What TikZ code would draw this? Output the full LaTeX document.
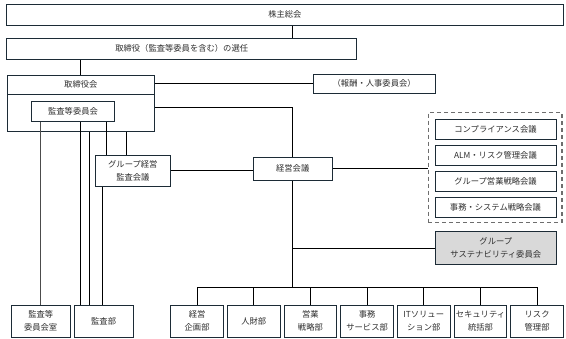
\documentclass[tikz,border=0pt]{standalone}
\usepackage{fontspec}
\setmainfont{Noto Sans CJK JP}
\definecolor{bordc}{HTML}{1C2B36}
\definecolor{txtc}{HTML}{2E2E2E}
\definecolor{grayfill}{HTML}{D9D9D9}
\definecolor{dashc}{HTML}{6E6E6E}
\begin{document}
\begin{tikzpicture}[x=1pt,y=-1pt,
  every node/.style={font=\fontsize{8.3}{13.5}\selectfont, text=txtc},
  box/.style={draw=bordc, line width=1pt, inner sep=0pt, align=center, fill=white},
  conn/.style={draw=black, line width=1pt},
  dept/.style={box, minimum width=52.8pt, minimum height=32pt}]
\useasboundingbox (0,0) rectangle (566,338);
% top
\node[box, minimum width=556.8pt, minimum height=20.3pt] (soukai) at (284.9,14.85) {株主総会};
\node[box, minimum width=350pt, minimum height=21pt] (senin) at (181.7,48.8) {取締役（監査等委員を含む）の選任};
% board
\node[box, minimum width=147pt, minimum height=55.7pt] (tk) at (80.8,103.15) {};
\node[box, minimum width=147pt, minimum height=19pt] (tkh) at (80.8,84.8) {取締役会};
\node[box, minimum width=82.6pt, minimum height=20pt] (kansa) at (73,111.7) {監査等委員会};
\node[box, minimum width=121.7pt, minimum height=19.3pt] (houshu) at (374.15,83.65) {（報酬・人事委員会）};
\node[box, minimum width=74.3pt, minimum height=31.7pt] (gkansa) at (132.85,170.85) {グループ経営\\監査会議};
\node[box, minimum width=79pt, minimum height=22.7pt] (keiei) at (292.7,168.65) {経営会議};
% dashed group
\node[draw=dashc, line width=1.6pt, dash pattern=on 4pt off 3pt, inner sep=0pt, minimum width=133.4pt, minimum height=110pt] (grp) at (495,167.3) {};
\node[box, minimum width=121pt, minimum height=20pt] (c1) at (495.5,129.5) {コンプライアンス会議};
\node[box, minimum width=121pt, minimum height=20pt] (c2) at (495.5,155.5) {ALM・リスク管理会議};
\node[box, minimum width=121pt, minimum height=20pt] (c3) at (495.5,181.5) {グループ営業戦略会議};
\node[box, minimum width=121pt, minimum height=20pt] (c4) at (495.5,207.5) {事務・システム戦略会議};
\node[box, fill=grayfill, minimum width=121.5pt, minimum height=32.6pt] (sust) at (495.8,248) {グループ\\サステナビリティ委員会};
% bottom left
\node[box, minimum width=59.3pt, minimum height=32pt] (kshitsu) at (40.7,321) {監査等\\委員会室};
\node[box, minimum width=59.3pt, minimum height=32pt] (kbu) at (103.65,321) {監査部};
% departments
\node[dept] (d1) at (197.1,321) {経営\\企画部};
\node[dept] (d2) at (253.77,321) {人財部};
\node[dept] (d3) at (310.44,321) {営業\\戦略部};
\node[dept] (d4) at (367.11,321) {事務\\サービス部};
\node[dept] (d5) at (423.78,321) {ITソリュー\\ション部};
\node[dept] (d6) at (480.45,321) {セキュリティ\\統括部};
\node[dept] (d7) at (537.12,321) {リスク\\管理部};
% helper coordinates
\coordinate (xA) at (80.7,0);
\coordinate (xB) at (89.3,0);
\coordinate (xC) at (106.7,0);
\coordinate (xD) at (126.7,0);
\coordinate (xE) at (102.3,0);
\coordinate (yB) at (0,107);
\coordinate (bus) at (292.7,287.3);
% connectors
\draw[conn] (soukai.south -| keiei.north) -- (senin.north -| keiei.north);
\draw[conn] (senin.south -| xA) -- (tkh.north -| xA);
\draw[conn] (houshu.west) -- (houshu.west -| tkh.east);
\draw[conn] (tk.east |- yB) -| (keiei.north);
\draw[conn, draw=black!70, line width=1.2pt] (kshitsu.north) -- (kshitsu.north |- kansa.south);
\draw[conn] (kansa.south -| xA) -- (kbu.north -| xA);
\draw[conn] (tk.south -| xB) -- (kbu.north -| xB);
\draw[conn] (kansa.south -| xC) -- (gkansa.north -| xC);
\draw[conn] (tk.south -| xD) -- (gkansa.north -| xD);
\draw[conn] (gkansa.south -| xE) -- (kbu.north -| xE);
\draw[conn] (gkansa.east) -- (gkansa.east -| keiei.west);
\draw[conn] (keiei.east) -- (keiei.east -| grp.west);
\draw[conn] (keiei.south) -- (bus);
\draw[conn] (sust.west -| keiei.south) -- (sust.west);
\draw[conn] (d1.north) |- (bus) -| (d7.north);
\foreach \i in {2,...,6} { \draw[conn] (d\i.north) -- (d\i.north |- bus); }
\end{tikzpicture}
\end{document}
